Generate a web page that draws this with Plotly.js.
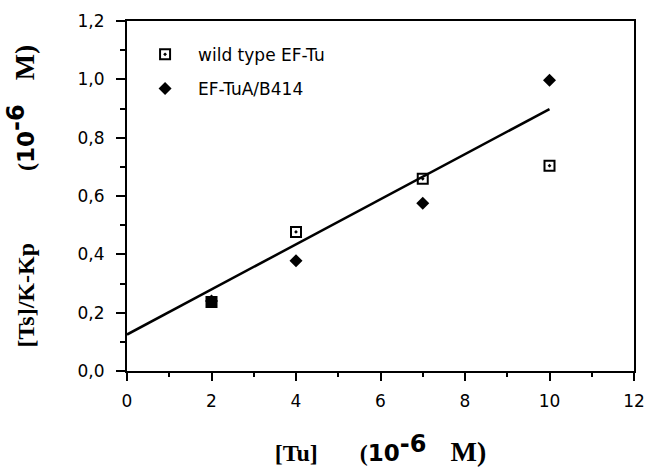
<!DOCTYPE html>
<html>
<head>
<meta charset="utf-8">
<script src="https://cdn.plot.ly/plotly-3.0.1.min.js"></script>
<style>html,body{margin:0;padding:0;background:#fff;}#chart{width:650px;height:469px;}</style>
</head>
<body>
<div id="chart"></div>
<script>
// Data
var wildTypeX = [2, 4, 7, 10];
var wildTypeY = [0.237, 0.477, 0.659, 0.704];
var mutantX = [2, 4, 7, 10];
var mutantY = [0.24, 0.378, 0.575, 0.997];
var fitX = [0, 10];
var fitY = [0.125, 0.898];
var seriesNames = ["wild type EF-Tu", "EF-TuA/B414"];
var xTickVals = [0, 2, 4, 6, 8, 10, 12];
var yTickVals = [0, 0.2, 0.4, 0.6, 0.8, 1.0, 1.2];

// where both series coincide, the printed marks merge into a solid square
var overlapX = [], overlapY = [];
wildTypeX.forEach(function (x, i) {
  var j = mutantX.indexOf(x);
  if (j >= 0 && Math.abs(mutantY[j] - wildTypeY[i]) < 0.02) {
    overlapX.push(x);
    overlapY.push(wildTypeY[i]);
  }
});

var traces = [
  {
    x: fitX, y: fitY, mode: "lines", showlegend: false, hoverinfo: "skip",
    line: {color: "#000", width: 2.5}
  },
  {
    x: wildTypeX, y: wildTypeY, mode: "markers", name: seriesNames[0],
    legendgroup: "a",
    marker: {symbol: "square-open-dot", size: 10, color: "#000", line: {width: 2, color: "#000"}}
  },
  {
    x: mutantX, y: mutantY, mode: "markers", name: seriesNames[1],
    legendgroup: "b",
    marker: {symbol: "diamond", size: 10, color: "#000", line: {width: 0}}
  },
  {
    x: overlapX, y: overlapY, mode: "markers", showlegend: false, hoverinfo: "skip",
    marker: {symbol: "square", size: 11, color: "#000", line: {width: 0}}
  }
];

var NB = "\u00A0";
function gap(n) { return new Array(n + 1).join(NB); }

var titleFont = {family: "Liberation Serif, Times New Roman, serif", size: 24, color: "#000", weight: "bold"};
var tickFont = {family: "DejaVu Sans, Arial, sans-serif", size: 17, color: "#000"};
var unitText = "(<span style=\"font-family:'DejaVu Sans';font-weight:bold;font-size:23px\">10<sup><span style=\"font-size:24px\">-6</span></sup></span>" + gap(4) + "<span style=\"font-size:28px\">M)</span>";

var layout = {
  width: 650, height: 469,
  margin: {l: 127, r: 16, t: 21, b: 98},
  paper_bgcolor: "#fff", plot_bgcolor: "#fff",
  separators: ",.",
  showlegend: true,
  legend: {
    x: 0.01, y: 0.955, xanchor: "left", yanchor: "top",
    font: {family: "DejaVu Sans, Arial, sans-serif", size: 17, color: "#000"},
    bgcolor: "rgba(0,0,0,0)", borderwidth: 0,
    itemwidth: 56, tracegroupgap: 9, traceorder: "grouped"
  },
  xaxis: {
    range: [0, 12], tickvals: xTickVals, tickformat: "d",
    showgrid: false, zeroline: false,
    showline: true, linecolor: "#000", linewidth: 2, mirror: true,
    ticks: "outside", ticklen: 8, tickwidth: 2, tickcolor: "#000",
    ticklabelstandoff: 6,
    minor: {dtick: 1, ticks: "outside", ticklen: 4, tickwidth: 2, tickcolor: "#000"},
    tickfont: tickFont,
    title: {text: "[Tu]" + gap(7) + unitText, font: titleFont, standoff: 34}
  },
  yaxis: {
    range: [0, 1.2], tickvals: yTickVals, tickformat: ".1f",
    showgrid: false, zeroline: false,
    showline: true, linecolor: "#000", linewidth: 2, mirror: true,
    ticks: "outside", ticklen: 9, tickwidth: 2, tickcolor: "#000",
    ticklabelstandoff: 8,
    minor: {dtick: 0.1, ticks: "outside", ticklen: 5, tickwidth: 2, tickcolor: "#000"},
    tickfont: tickFont,
    title: {text: gap(10) + "[Ts]/K-Kp" + gap(12) + unitText, font: titleFont, standoff: 36}
  }
};

Plotly.newPlot("chart", traces, layout, {displayModeBar: false, staticPlot: true});
</script>
</body>
</html>
